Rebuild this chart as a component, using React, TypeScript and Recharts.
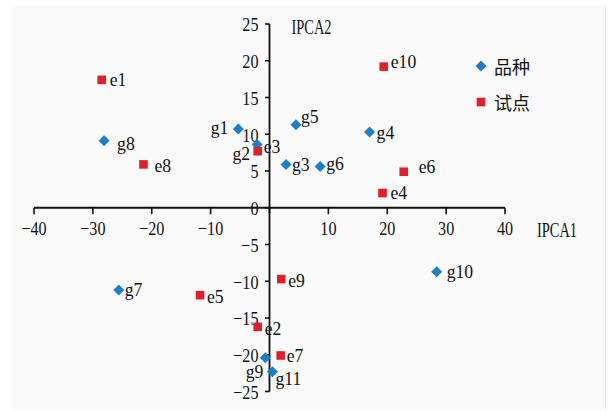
import React from 'react';
import { ScatterChart, Scatter, XAxis, YAxis, ReferenceLine, Legend } from 'recharts';

// ---- data ----
const genotypeNames = ['g1', 'g2', 'g3', 'g4', 'g5', 'g6', 'g7', 'g8', 'g9', 'g10', 'g11'];
const genotypeIPCA1 = [-5.3, -2.1, 2.8, 17.0, 4.5, 8.6, -25.6, -28.1, -0.7, 28.4, 0.5];
const genotypeIPCA2 = [10.7, 8.6, 5.9, 10.3, 11.3, 5.6, -11.2, 9.1, -20.4, -8.7, -22.3];

const envNames = ['e1', 'e2', 'e3', 'e4', 'e5', 'e6', 'e7', 'e8', 'e9', 'e10'];
const envIPCA1 = [-28.5, -2.0, -2.0, 19.2, -11.8, 22.8, 1.9, -21.4, 2.0, 19.4];
const envIPCA2 = [17.4, -16.2, 7.7, 2.0, -11.9, 4.9, -20.1, 5.9, -9.7, 19.2];

const xTicks = [-40, -30, -20, -10, 0, 10, 20, 30, 40];
const yTicks = [-25, -20, -15, -10, -5, 0, 5, 10, 15, 20, 25];

const seriesNames = ['品种', '试点'];
const xTitle = 'IPCA1';
const yTitle = 'IPCA2';

// ---- styles ----
const BLUE = '#1a7fc6';
const RED = '#e11f2b';
const SERIF = '"Liberation Serif", "DejaVu Serif", serif';
const CJK = '"Noto Sans CJK SC", sans-serif';

// label placement: [dx, dy, anchor]
const labelPlace: Record<string, [number, number, string]> = {
  g1: [-10, -1, 'end'], g2: [-7, 9, 'end'], g3: [6, 0, 'start'], g4: [7, 1, 'start'],
  g5: [5, -8, 'start'], g6: [6, -3, 'start'], g7: [6, 0, 'start'], g8: [13, 3, 'start'],
  g9: [-2, 14, 'end'], g10: [10, 0, 'start'], g11: [3, 7, 'start'],
  e1: [8, 0, 'start'], e2: [7, 2, 'start'], e3: [6, -4, 'start'], e4: [8, 0, 'start'],
  e5: [7, 2, 'start'], e6: [15, -5, 'start'], e7: [6, 0, 'start'], e8: [11, 1, 'start'],
  e9: [7, 2, 'start'], e10: [7, -5, 'start'],
};

const genotypeData = genotypeNames.map((n, i) => ({ name: n, x: genotypeIPCA1[i], y: genotypeIPCA2[i] }));
const envData = envNames.map((n, i) => ({ name: n, x: envIPCA1[i], y: envIPCA2[i] }));
const xTickData = xTicks.map((v) => ({ x: v, y: 0, v }));
const yTickData = yTicks.map((v) => ({ x: 0, y: v, v }));

const fmt = (v: number) => (v < 0 ? '\u2212' + Math.abs(v) : String(v));

function SText({ x, y, s, size, anchor, children, family }: any) {
  return (
    <text
      transform={`translate(${x},${y}) scale(${s},1)`}
      x={0}
      y={0}
      textAnchor={anchor}
      dominantBaseline="central"
      fontFamily={family || SERIF}
      fontSize={size}
      fill="#111"
    >
      {children}
    </text>
  );
}

const Diamond = (props: any) => {
  const { cx, cy, payload } = props;
  const r = 5.5;
  const p = labelPlace[payload.name] || [6, 0, 'start'];
  return (
    <g>
      <polygon points={`${cx},${cy - r} ${cx + r},${cy} ${cx},${cy + r} ${cx - r},${cy}`} fill={BLUE} />
      <SText x={cx + p[0]} y={cy + p[1]} s={0.93} size={19} anchor={p[2]}>{payload.name}</SText>
    </g>
  );
};

const Square = (props: any) => {
  const { cx, cy, payload } = props;
  const h = 4.3;
  const p = labelPlace[payload.name] || [6, 0, 'start'];
  return (
    <g>
      <rect x={cx - h} y={cy - h} width={2 * h} height={2 * h} fill={RED} />
      <SText x={cx + p[0]} y={cy + p[1]} s={0.93} size={19} anchor={p[2]}>{payload.name}</SText>
    </g>
  );
};

const XTick = (props: any) => {
  const { cx, cy, payload } = props;
  return (
    <g>
      <line x1={cx} y1={cy} x2={cx} y2={cy + 6.5} stroke="#111" strokeWidth={1.6} />
      {payload.v !== 0 && (
        <SText x={cx} y={cy + 21} s={0.85} size={19} anchor="middle">{fmt(payload.v)}</SText>
      )}
      {payload.v === xTicks[xTicks.length - 1] && (
        <SText x={cx + 32} y={cy + 22} s={0.72} size={20} anchor="start">{xTitle}</SText>
      )}
    </g>
  );
};

const YTick = (props: any) => {
  const { cx, cy, payload } = props;
  return (
    <g>
      <line x1={cx - 4.5} y1={cy} x2={cx} y2={cy} stroke="#111" strokeWidth={1.6} />
      <SText x={cx - 11} y={cy + 1} s={0.85} size={19} anchor="end">{fmt(payload.v)}</SText>
      {payload.v === yTicks[yTicks.length - 1] && (
        <SText x={cx + 22} y={cy + 3} s={0.72} size={20} anchor="start">{yTitle}</SText>
      )}
    </g>
  );
};

const renderLegend = () => (
  <div style={{ fontFamily: CJK, fontSize: 18, color: '#111' }}>
    {seriesNames.map((n, i) => (
      <div key={n} style={{ display: 'flex', alignItems: 'center', height: 36 }}>
        <svg width={14} height={14} style={{ marginRight: 6 }}>
          {i === 0 ? (
            <polygon points="7,1.5 12.5,7 7,12.5 1.5,7" fill={BLUE} />
          ) : (
            <rect x={2.7} y={2.7} width={8.6} height={8.6} fill={RED} />
          )}
        </svg>
        <span>{n}</span>
      </div>
    ))}
  </div>
);

export default function App() {
  return (
    <div style={{ position: 'absolute', left: 0, top: 0, width: 612, height: 412, background: '#fff' }}>
      <div style={{ position: 'absolute', left: 12, top: 5, width: 593, height: 405, background: '#fafafa', borderRight: '1px solid #eeeeee' }} />
      <div style={{ position: 'absolute', left: 0, top: 0 }}>
        <ScatterChart width={612} height={412} margin={{ left: 34, right: 107, top: 24, bottom: 20.5 }}>
          <XAxis type="number" dataKey="x" domain={[-40, 40]} hide />
          <YAxis type="number" dataKey="y" domain={[-25, 25]} hide />
          <ReferenceLine y={0} stroke="#111" strokeWidth={1.8} />
          <ReferenceLine x={0} stroke="#111" strokeWidth={1.8} />
          <Legend
            layout="vertical"
            align="center"
            verticalAlign="middle"
            content={renderLegend}
            wrapperStyle={{ left: 474, top: 48, width: 80, height: 72 }}
          />
          <Scatter data={xTickData} shape={XTick} isAnimationActive={false} legendType="none" />
          <Scatter data={yTickData} shape={YTick} isAnimationActive={false} legendType="none" />
          <Scatter name={seriesNames[0]} data={genotypeData} shape={Diamond} isAnimationActive={false} />
          <Scatter name={seriesNames[1]} data={envData} shape={Square} isAnimationActive={false} />
        </ScatterChart>
      </div>
    </div>
  );
}
